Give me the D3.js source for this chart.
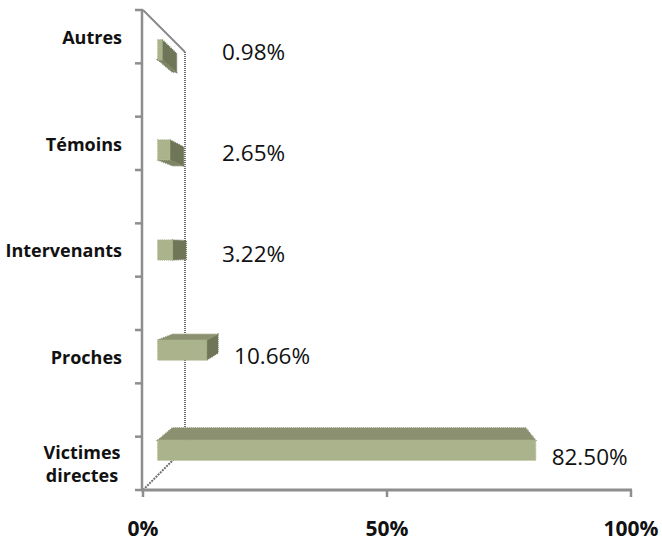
<!DOCTYPE html>
<html>
<head>
<meta charset="utf-8">
<script src="https://cdn.jsdelivr.net/npm/d3@7"></script>
<style>
  html, body { margin: 0; padding: 0; background: #fff; }
  svg { display: block; }
</style>
</head>
<body>
<script>
// Répartition des personnes concernées
const categories = ["Victimes directes", "Proches", "Intervenants", "Témoins", "Autres"];
const values = [82.50, 10.66, 3.22, 2.65, 0.98];
const axisTicks = [0, 50, 100];

const W = 662, H = 547;
const svg = d3.select("body").append("svg").attr("width", W).attr("height", H);

// front plane scales
const x = d3.scaleLinear().domain([0, 100]).range([143, 631]);
const y = d3.scaleBand().domain(categories.slice().reverse()).range([10, 490]).paddingInner(0.5).paddingOuter(0);

// simple perspective: points recede toward a vanishing point as depth grows
const VP = [383, 250], DEPTH = 0.175;
function proj(px, py, z) {
  const k = DEPTH * z;
  return [px + (VP[0] - px) * k, py + (VP[1] - py) * k];
}
const line = d3.line();

const grey = "#8e8e8e";

// side wall edges
const wallTop = [proj(x(0), 10, 0), proj(x(0), 10, 1)];
const wallBottom = [proj(x(0), 490, 0), proj(x(0), 490, 1)];
const wallBack = [proj(x(0), 10, 1), proj(x(0), 490, 1)];
svg.append("path").attr("d", line(wallTop)).attr("stroke", "#8a8a8a").attr("stroke-width", 2).attr("fill", "none");
svg.append("path").attr("d", line(wallBack)).attr("stroke", "#6e6e6e").attr("stroke-width", 2)
  .attr("stroke-dasharray", "1,1").attr("fill", "none");
svg.append("path").attr("d", line(wallBottom)).attr("stroke", "#6e6e6e").attr("stroke-width", 2)
  .attr("stroke-dasharray", "2,1").attr("fill", "none");

// value axis (bottom)
svg.append("line").attr("x1", x(0) - 2).attr("x2", x(100) + 1).attr("y1", 490).attr("y2", 490)
  .attr("stroke", grey).attr("stroke-width", 3);
svg.selectAll(".xt").data(axisTicks).join("line")
  .attr("x1", d => x(d)).attr("x2", d => x(d)).attr("y1", 490).attr("y2", 497)
  .attr("stroke", grey).attr("stroke-width", 2.5);
svg.selectAll(".xl").data(axisTicks).join("text")
  .attr("x", d => x(d)).attr("y", 536)
  .attr("text-anchor", "middle")
  .style("font-family", "'Open Sans', sans-serif").style("font-weight", 700).style("font-size", "21px")
  .attr("fill", "#111")
  .text(d => d + "%");

// category axis (left)
svg.append("line").attr("x1", x(0) - 1).attr("x2", x(0) - 1).attr("y1", 9).attr("y2", 491)
  .attr("stroke", grey).attr("stroke-width", 2.5);
const tickYs = [];
categories.forEach(c => { tickYs.push(y(c)); tickYs.push(y(c) + y.bandwidth()); });
svg.selectAll(".yt").data(tickYs).join("line")
  .attr("x1", x(0) - 8).attr("x2", x(0)).attr("y1", d => d).attr("y2", d => d)
  .attr("stroke", grey).attr("stroke-width", 2.5);

const catLabels = svg.selectAll(".yl").data(categories).join("text")
  .attr("x", 122)
  .attr("y", d => y(d) + y.bandwidth() / 2 + 1)
  .attr("text-anchor", d => d.includes(" ") ? "middle" : "end")
  .style("font-family", "'Open Sans', sans-serif").style("font-weight", 700).style("font-size", "18px")
  .attr("fill", "#111");
catLabels.each(function(d) {
  const t = d3.select(this);
  const words = d.split(" ");
  if (words.length === 1) {
    t.attr("dy", "0.35em").text(d);
  } else {
    t.attr("x", 82);
    words.forEach((w, i) => {
      t.append("tspan").attr("x", 82)
        .attr("dy", i === 0 ? (0.35 - 0.65) + "em" : "1.3em").text(w);
    });
  }
});

// 3D bars
const Z0 = 0.35, Z1 = 0.70;
const barH = y.bandwidth() * 0.4;
const colFront = "#aab38b", colTop = "#8b9170", colSide = "#6f7658", colBottom = "#7d8464";

const bars = categories.map((c, i) => {
  const cy = y(c) + y.bandwidth() / 2;
  return { c, v: values[i], x0: x(0), x1: x(values[i]), y0: cy - barH / 2, y1: cy + barH / 2, cy };
});

const gBars = svg.append("g");
bars.forEach(b => {
  const g = gBars.append("g");
  const face = (pts, col) => g.append("path")
    .attr("d", line(pts) + "Z")
    .attr("fill", col).attr("stroke", col).attr("stroke-width", 1.4).attr("stroke-dasharray", "1,1");
  // right side
  if (b.x1 < VP[0]) {
    face([proj(b.x1, b.y0, Z0), proj(b.x1, b.y0, Z1), proj(b.x1, b.y1, Z1), proj(b.x1, b.y1, Z0)], colSide);
  }
  // top or bottom face
  if (b.y0 > VP[1]) {
    face([proj(b.x0, b.y0, Z0), proj(b.x0, b.y0, Z1), proj(b.x1, b.y0, Z1), proj(b.x1, b.y0, Z0)], colTop);
  } else if (b.y1 < VP[1]) {
    face([proj(b.x0, b.y1, Z0), proj(b.x0, b.y1, Z1), proj(b.x1, b.y1, Z1), proj(b.x1, b.y1, Z0)], colBottom);
  }
  // front face
  face([proj(b.x0, b.y0, Z0), proj(b.x1, b.y0, Z0), proj(b.x1, b.y1, Z0), proj(b.x0, b.y1, Z0)], colFront);
});

// value labels
const fmt = d3.format(".2f");
svg.selectAll(".vl").data(bars).join("text")
  .attr("x", b => {
    const end = Math.max(proj(b.x1, b.y0, Z0)[0], proj(b.x1, b.y0, Z1)[0]);
    return Math.max(222, end + 16);
  })
  .attr("y", b => b.cy + (340 - b.cy) * 0.05)
  .attr("dy", "0.35em")
  .style("font-family", "'Open Sans', sans-serif").style("font-size", "22.5px")
  .attr("fill", "#111")
  .text(b => fmt(b.v) + "%");
</script>
</body>
</html>
